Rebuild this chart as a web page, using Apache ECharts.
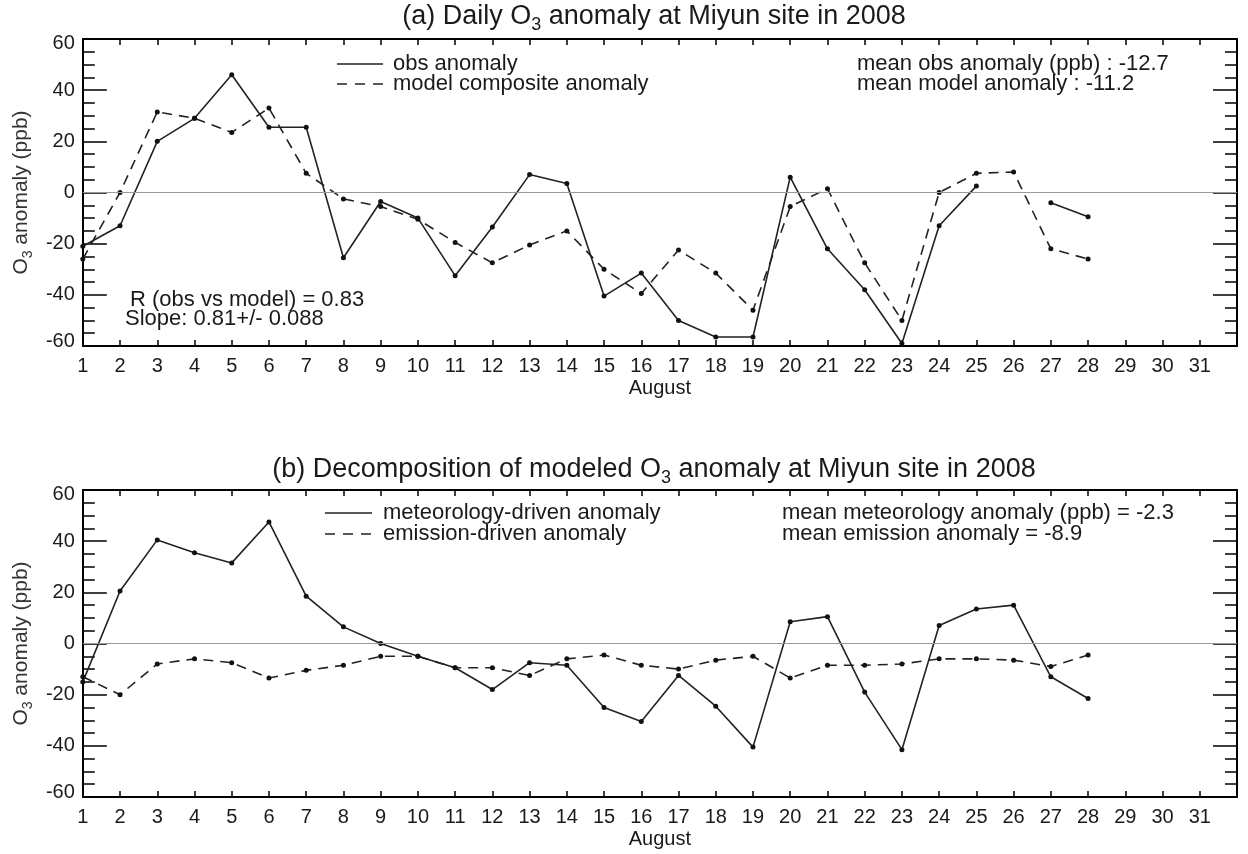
<!DOCTYPE html>
<html>

<head>
  <meta charset="UTF-8">
  <title>Daily O3 anomaly at Miyun site in 2008</title>
  <script type="text/javascript" src="https://cdn.jsdelivr.net/npm/echarts@6/dist/echarts.min.js"></script>
  <style>
    html, body { margin: 0; padding: 0; background: #fff; }
    #main { width: 1248px; height: 854px; }
  </style>
</head>

<body>
  <div id="main"></div>

  <script>
    // days of August that have values
    var days = [1, 2, 3, 4, 5, 6, 7, 8, 9, 10, 11, 12, 13, 14,
      15, 16, 17, 18, 19, 20, 21, 22, 23, 24, 25, 26, 27, 28];

    // (a) observed vs model composite anomaly (ppb), null = no obs
    var obsAnom = [-21, -13, 20, 29, 46, 25.5, 25.5, -25.5, -3.5, -10, -32.5, -13.5, 7, 3.5,
      -40.5, -31.5, -50, -56.5, -56.5, 6, -22, -38, -59, -13, 2.5, null, -4, -9.5];
    var modelAnom = [-26, 0, 31.5, 29, 23.5, 33, 7.5, -2.5, -5.5, -10.5, -19.5, -27.5, -20.5, -15,
      -30, -39.5, -22.5, -31.5, -46, -5.5, 1.5, -27.5, -50, 0, 7.5, 8, -22, -26];

    // (b) decomposition of the modelled anomaly (ppb)
    var metAnom = [-15, 20.5, 40.5, 35.5, 31.5, 47.5, 18.5, 6.5, 0, -5, -9.5, -18, -7.5, -8.5,
      -25, -30.5, -12.5, -24.5, -40.5, 8.5, 10.5, -19, -41.5, 7, 13.5, 15, -13, -21.5];
    var emisAnom = [-13, -20, -8, -6, -7.5, -13.5, -10.5, -8.5, -5, -5, -9.5, -9.5, -12.5, -6,
      -4.5, -8.5, -10, -6.5, -5, -13.5, -8.5, -8.5, -8, -6, -6, -6.5, -9, -4.5];

    // axis ranges / tick labels
    var xMin = 1, xMax = 32, xLastLabel = 31;
    var yMin = -60, yMax = 60, yStep = 20;

    var FONT = '"Liberation Sans", Arial, sans-serif';
    var INK = '#1a1a1a';

    function pairs(vals) {
      return days.map(function (d, i) { return [d, vals[i]]; });
    }

    function lineSeries(name, vals, dashed, gi) {
      return {
        name: name,
        type: 'line',
        xAxisIndex: gi * 2,
        yAxisIndex: gi * 2,
        data: pairs(vals),
        symbol: 'circle',
        symbolSize: 5,
        itemStyle: { color: '#111' },
        lineStyle: { color: '#222', width: 1.6, type: dashed ? [10, 7] : 'solid' },
        silent: true
      };
    }

    function zeroLine() {
      return {
        silent: true,
        symbol: 'none',
        label: { show: false },
        lineStyle: { color: '#999', width: 1.2, type: 'solid' },
        data: [{ yAxis: 0 }]
      };
    }

    var boxLine = { onZero: false, lineStyle: { color: '#000', width: 2 } };

    function xAxes(gi) {
      return [{
        type: 'value', gridIndex: gi, position: 'bottom',
        min: xMin, max: xMax, interval: 1,
        name: 'August', nameLocation: 'middle', nameGap: 32,
        nameTextStyle: { fontSize: 20, fontFamily: FONT, color: INK },
        axisLine: boxLine,
        axisTick: { inside: true, length: 6, lineStyle: { color: '#000', width: 1.5 } },
        axisLabel: {
          margin: 10, fontSize: 20, fontFamily: FONT, color: INK,
          formatter: function (v) { return v > xLastLabel ? '' : v; }
        },
        splitLine: { show: false }
      }, {
        type: 'value', gridIndex: gi, position: 'top',
        min: xMin, max: xMax, interval: 1,
        axisLine: boxLine,
        axisTick: { inside: true, length: 6, lineStyle: { color: '#000', width: 1.5 } },
        axisLabel: { show: false },
        splitLine: { show: false }
      }];
    }

    function yAxes(gi) {
      var tick = { inside: true, length: 24, lineStyle: { color: '#000', width: 1.5 } };
      var minor = { show: true, splitNumber: 4, length: 12, lineStyle: { color: '#000', width: 1.5 } };
      return [{
        type: 'value', gridIndex: gi, position: 'left',
        min: yMin, max: yMax, interval: yStep,
        name: 'O{s|3} anomaly (ppb)', nameLocation: 'middle', nameGap: 47,
        nameTextStyle: {
          fontSize: 21, fontFamily: FONT, color: '#333', lineHeight: 27,
          rich: { s: { fontSize: 14, fontFamily: FONT, color: '#333', verticalAlign: 'bottom', lineHeight: 14 } }
        },
        axisLine: boxLine,
        axisTick: tick,
        minorTick: minor,
        axisLabel: {
          margin: 8, fontSize: 20, fontFamily: FONT, color: INK,
          formatter: function (v) {
            if (v === yMax) return '{hi|' + v + '}';
            if (v === yMin) return '{lo|' + v + '}';
            return v;
          },
          rich: {
            hi: { fontSize: 20, fontFamily: FONT, color: INK, padding: [8, 0, 0, 0] },
            lo: { fontSize: 20, fontFamily: FONT, color: INK, padding: [0, 0, 10, 0] }
          }
        },
        splitLine: { show: false }
      }, {
        type: 'value', gridIndex: gi, position: 'right',
        min: yMin, max: yMax, interval: yStep,
        axisLine: boxLine,
        axisTick: tick,
        minorTick: minor,
        axisLabel: { show: false },
        splitLine: { show: false }
      }];
    }

    function txt(x, y, s, size, align) {
      return {
        type: 'text', x: x, y: y, silent: true,
        style: {
          text: s, fontSize: size || 22, fontFamily: FONT, fill: INK,
          align: align || 'left', verticalAlign: 'middle'
        }
      };
    }

    function title(y, s) {
      return {
        type: 'text', x: 654, y: y, silent: true,
        style: {
          text: s, fontSize: 27, fontFamily: FONT, fill: INK, lineHeight: 35,
          align: 'center', verticalAlign: 'middle',
          rich: { s: { fontSize: 18, fontFamily: FONT, fill: INK, verticalAlign: 'bottom', lineHeight: 18 } }
        }
      };
    }

    function sample(x1, x2, y, dashed) {
      return {
        type: 'line', silent: true,
        shape: { x1: x1, y1: y, x2: x2, y2: y },
        style: { stroke: '#222', lineWidth: 1.6, lineDash: dashed ? [10, 8] : null }
      };
    }

    var s1 = lineSeries('obs anomaly', obsAnom, false, 0);
    s1.markLine = zeroLine();
    var s3 = lineSeries('meteorology-driven anomaly', metAnom, false, 1);
    s3.markLine = zeroLine();

    var myChart = echarts.init(document.getElementById('main'));
    var option = {
      animation: false,
      backgroundColor: '#fff',
      grid: [
        { left: 80, top: 39, width: 1157, height: 307 },
        { left: 80, top: 490, width: 1157, height: 307 }
      ],
      xAxis: xAxes(0).concat(xAxes(1)),
      yAxis: yAxes(0).concat(yAxes(1)),
      series: [
        s1,
        lineSeries('model composite anomaly', modelAnom, true, 0),
        s3,
        lineSeries('emission-driven anomaly', emisAnom, true, 1)
      ],
      graphic: [
        title(17, '(a) Daily O{s|3} anomaly at Miyun site in 2008'),
        title(470, '(b) Decomposition of modeled O{s|3} anomaly at Miyun site in 2008'),

        sample(337, 383, 64, false),
        sample(337, 383, 84, true),
        txt(393, 64, 'obs anomaly'),
        txt(393, 84, 'model composite anomaly'),
        txt(857, 64, 'mean obs anomaly (ppb) : -12.7'),
        txt(857, 84, 'mean model anomaly : -11.2'),
        txt(130, 300, 'R (obs vs model) = 0.83'),
        txt(125, 319, 'Slope: 0.81+/- 0.088'),

        sample(325, 372, 513, false),
        sample(325, 372, 534, true),
        txt(383, 513, 'meteorology-driven anomaly'),
        txt(383, 534, 'emission-driven anomaly'),
        txt(782, 513, 'mean meteorology anomaly (ppb) = -2.3'),
        txt(782, 534, 'mean emission anomaly = -8.9')
      ]
    };
    myChart.setOption(option);
  </script>
</body>

</html>
